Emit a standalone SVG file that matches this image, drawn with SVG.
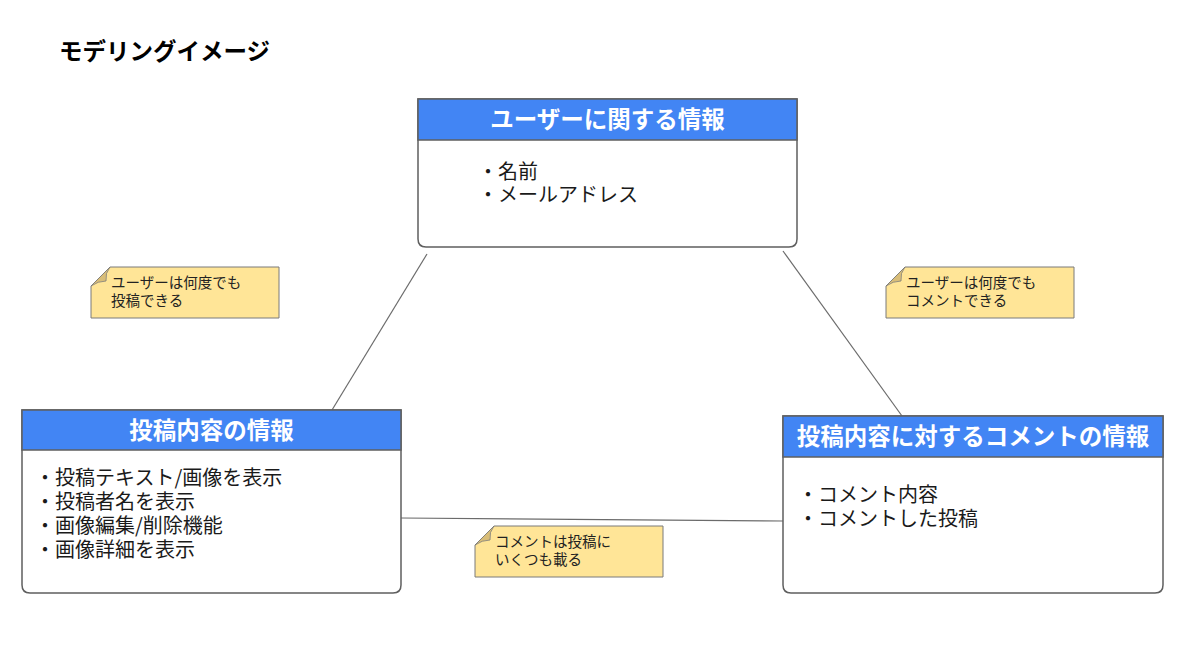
<svg xmlns="http://www.w3.org/2000/svg" width="1200" height="660" viewBox="0 0 1200 660">
<style>
.bg{fill:#ffffff}
.box{fill:#ffffff;stroke:#5f5f5f;stroke-width:1.5}
.hdr{fill:#4285f4;stroke:#5f5f5f;stroke-width:1.5}
.ht{font-family:"Noto Sans CJK JP","Noto Sans",sans-serif;font-weight:bold;font-size:23.5px;fill:#ffffff;text-anchor:middle}
.bt{font-family:"Noto Sans CJK JP","Noto Sans",sans-serif;font-size:20px;fill:#1a1a1a}
.note{fill:#ffe597;stroke:#7a7a7a;stroke-width:1}
.fold{fill:#d8bd78;stroke:#7a7a7a;stroke-width:0.8}
.nt{font-family:"Noto Sans CJK JP","Noto Sans",sans-serif;font-size:14.5px;fill:#222222}
.conn{stroke:#6b6b6b;stroke-width:1.2;fill:none}
.title{font-family:"Noto Sans CJK JP","Noto Sans",sans-serif;font-weight:bold;font-size:23.5px;fill:#000000}
</style>
<rect class="bg" x="0" y="0" width="1200" height="660"/>
<text class="title" x="59" y="60">モデリングイメージ</text>

<g id="connectors">
<line class="conn" x1="427" y1="254" x2="332" y2="410"/>
<line class="conn" x1="783" y1="251" x2="902" y2="416"/>
<line class="conn" x1="401" y1="518" x2="783" y2="521"/>
</g>

<g id="user-info">
<path class="box" d="M418,99 H797 V239 Q797,247 789,247 H426 Q418,247 418,239 Z"/>
<rect class="hdr" x="418" y="99" width="379" height="41"/>
<text class="ht" x="607.5" y="128">ユーザーに関する情報</text>
<text class="bt"><tspan x="478" y="179">・名前</tspan><tspan x="478" y="202">・メールアドレス</tspan></text>
</g>

<g id="post-info">
<path class="box" d="M22,410 H401 V585 Q401,593 393,593 H30 Q22,593 22,585 Z"/>
<rect class="hdr" x="22" y="410" width="379" height="40"/>
<text class="ht" x="211.5" y="439">投稿内容の情報</text>
<text class="bt"><tspan x="35" y="485">・投稿テキスト/画像を表示</tspan><tspan x="35" y="509">・投稿者名を表示</tspan><tspan x="35" y="533">・画像編集/削除機能</tspan><tspan x="35" y="557">・画像詳細を表示</tspan></text>
</g>

<g id="comment-info">
<path class="box" d="M783,416 H1163 V585 Q1163,593 1155,593 H791 Q783,593 783,585 Z"/>
<rect class="hdr" x="783" y="416" width="380" height="41"/>
<text class="ht" x="973" y="445">投稿内容に対するコメントの情報</text>
<text class="bt"><tspan x="798" y="502">・コメント内容</tspan><tspan x="798" y="526">・コメントした投稿</tspan></text>
</g>

<g id="note-user-post">
<path class="note" d="M110,267 H279 V318 H91 V286 Z"/>
<path class="fold" d="M91,286 L110,267 Q105,273 106,281 Q98,281 91,286 Z"/>
<text class="nt"><tspan x="111" y="288">ユーザーは何度でも</tspan><tspan x="111" y="306">投稿できる</tspan></text>
</g>

<g id="note-user-comment">
<path class="note" d="M905,267 H1074 V318 H886 V286 Z"/>
<path class="fold" d="M886,286 L905,267 Q900,273 901,281 Q893,281 886,286 Z"/>
<text class="nt"><tspan x="906" y="288">ユーザーは何度でも</tspan><tspan x="906" y="306">コメントできる</tspan></text>
</g>

<g id="note-comment-post">
<path class="note" d="M494,526 H663 V577 H475 V545 Z"/>
<path class="fold" d="M475,545 L494,526 Q489,532 490,540 Q482,540 475,545 Z"/>
<text class="nt"><tspan x="495" y="547">コメントは投稿に</tspan><tspan x="495" y="565">いくつも載る</tspan></text>
</g>
</svg>
